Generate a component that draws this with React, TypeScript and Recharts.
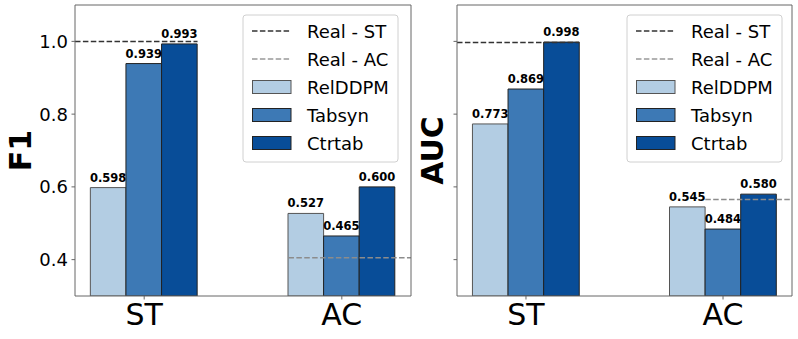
import React from 'react';
import { BarChart, Bar, XAxis, YAxis, ReferenceLine, LabelList } from 'recharts';

const categories = ['ST', 'AC'];
const positions = [0, 1];
const seriesNames = ['RelDDPM', 'Tabsyn', 'Ctrtab'];
const seriesColors = ['#b3cde3', '#3d79b5', '#084d98'];
const seriesEdges = ['#555555', '#222222', '#222222'];

const f1RelDDPM = [0.598, 0.527];
const f1Tabsyn = [0.939, 0.465];
const f1Ctrtab = [0.993, 0.6];
const f1RealST = 1.0;
const f1RealAC = 0.405;

const aucRelDDPM = [0.773, 0.545];
const aucTabsyn = [0.869, 0.484];
const aucCtrtab = [0.998, 0.58];
const aucRealST = 0.997;
const aucRealAC = 0.565;

const yTicks = [0.4, 0.6, 0.8, 1.0];
const yDomain = [0.3, 1.1];
const xDomain = [-0.35, 1.35];

const FONT = 'DejaVu Sans';

function buildRows(a: number[], b: number[], c: number[]) {
  return positions.map((p, i) => ({ pos: p, name: categories[i], RelDDPM: a[i], Tabsyn: b[i], Ctrtab: c[i] }));
}

const f1Data = buildRows(f1RelDDPM, f1Tabsyn, f1Ctrtab);
const aucData = buildRows(aucRelDDPM, aucTabsyn, aucCtrtab);

type PanelProps = {
  data: any[];
  width: number;
  yAxisWidth: number;
  marginRight: number;
  showYLabels: boolean;
  yLabel: string;
  yLabelX: number;
  realST: number;
  realAC: number;
  stEnd: number;
  acStart: number;
};

function Panel(p: PanelProps) {
  const spine = '#666666';
  return (
    <BarChart
      width={p.width}
      height={339}
      data={p.data}
      margin={{ top: 5, right: p.marginRight, bottom: 8, left: 0 }}
      barGap={0}
      style={{ fontFamily: FONT }}
    >
      <XAxis
        type="number"
        dataKey="pos"
        domain={xDomain}
        allowDataOverflow
        ticks={positions}
        tickFormatter={(v: number) => categories[v]}
        height={35}
        tickSize={3.5}
        tickMargin={4.2}
        stroke={spine}
        tick={{ fontSize: 30, fill: '#000', fontFamily: FONT }}
      />
      <YAxis
        type="number"
        domain={yDomain}
        allowDataOverflow
        ticks={yTicks}
        width={p.yAxisWidth}
        tickSize={3.5}
        tickMargin={3.5}
        stroke={spine}
        tickFormatter={(v: number) => (p.showYLabels ? v.toFixed(1) : '')}
        tick={{ fontSize: 18, fill: '#000', fontFamily: FONT }}
        label={{
          content: (props: any) => {
            const vb = props.viewBox;
            const cy = vb.y + vb.height / 2;
            return (
              <text
                x={p.yLabelX}
                y={cy}
                transform={`rotate(-90 ${p.yLabelX} ${cy})`}
                textAnchor="middle"
                dominantBaseline="central"
                fontSize={30}
                fontWeight="bold"
                fontFamily={FONT}
                fill="#000"
              >
                {p.yLabel}
              </text>
            );
          },
        }}
      />
      {seriesNames.map((s, i) => (
        <Bar
          key={s}
          dataKey={s}
          fill={seriesColors[i]}
          stroke={seriesEdges[i]}
          strokeWidth={1}
          barSize={35.6}
          isAnimationActive={false}
        >
          <LabelList
            dataKey={s}
            position="top"
            offset={6}
            formatter={(v: any) => Number(v).toFixed(3)}
            style={{ fontSize: 11.5, fontWeight: 'bold', fill: '#000', fontFamily: FONT }}
          />
        </Bar>
      ))}
      <ReferenceLine
        segment={[
          { x: xDomain[0], y: p.realST },
          { x: p.stEnd, y: p.realST },
        ]}
        stroke="#333333"
        strokeWidth={1.5}
        strokeDasharray="5.5 2.4"
        ifOverflow="visible"
      />
      <ReferenceLine
        segment={[
          { x: p.acStart, y: p.realAC },
          { x: xDomain[1], y: p.realAC },
        ]}
        stroke="#8c8c8c"
        strokeWidth={1.5}
        strokeDasharray="5.5 2.4"
        ifOverflow="visible"
      />
      <ReferenceLine y={yDomain[1]} stroke={spine} strokeWidth={1} ifOverflow="visible" />
      <ReferenceLine x={xDomain[1]} stroke={spine} strokeWidth={1} ifOverflow="visible" />
    </BarChart>
  );
}

const legendItems = [
  { label: 'Real - ST', kind: 'line', color: '#333333' },
  { label: 'Real - AC', kind: 'line', color: '#999999' },
  { label: seriesNames[0], kind: 'patch', color: seriesColors[0], edge: seriesEdges[0] },
  { label: seriesNames[1], kind: 'patch', color: seriesColors[1], edge: seriesEdges[1] },
  { label: seriesNames[2], kind: 'patch', color: seriesColors[2], edge: seriesEdges[2] },
];

function LegendBox({ left }: { left: number }) {
  const w = 155;
  const h = 147;
  return (
    <svg
      width={w + 2}
      height={h + 2}
      style={{ position: 'absolute', left: left - 1, top: 14 }}
    >
      <rect x={1} y={1} width={w} height={h} rx={3} ry={3} fill="rgba(255,255,255,0.8)" stroke="#d0d0d0" strokeWidth={1} />
      {legendItems.map((it, i) => {
        const cy = 17 + i * 28;
        return (
          <g key={it.label}>
            {it.kind === 'line' ? (
              <line x1={10} x2={49} y1={cy} y2={cy} stroke={it.color} strokeWidth={1.5} strokeDasharray="5.5 2.4" />
            ) : (
              <rect x={10.5} y={cy - 6.5} width={38.5} height={13} fill={it.color} stroke={(it as any).edge} strokeWidth={1} />
            )}
            <text x={65} y={cy} dominantBaseline="central" fontSize={18} fontFamily={FONT} fill="#000">
              {it.label}
            </text>
          </g>
        );
      })}
    </svg>
  );
}

export default function App() {
  return (
    <div style={{ position: 'absolute', left: 0, top: 0, width: 798, height: 339, background: '#fff', fontFamily: FONT }}>
      <div style={{ position: 'absolute', left: 0, top: 0 }}>
        <Panel
          data={f1Data}
          width={414}
          yAxisWidth={75}
          marginRight={3}
          showYLabels={true}
          yLabel="F1"
          yLabelX={20}
          realST={f1RealST}
          realAC={f1RealAC}
          stEnd={0.27}
          acStart={0.73}
        />
      </div>
      <div style={{ position: 'absolute', left: 414, top: 0 }}>
        <Panel
          data={aucData}
          width={384}
          yAxisWidth={43}
          marginRight={6}
          showYLabels={false}
          yLabel="AUC"
          yLabelX={18}
          realST={aucRealST}
          realAC={aucRealAC}
          stEnd={0.27}
          acStart={0.91}
        />
      </div>
      <LegendBox left={243} />
      <LegendBox left={627} />
    </div>
  );
}
